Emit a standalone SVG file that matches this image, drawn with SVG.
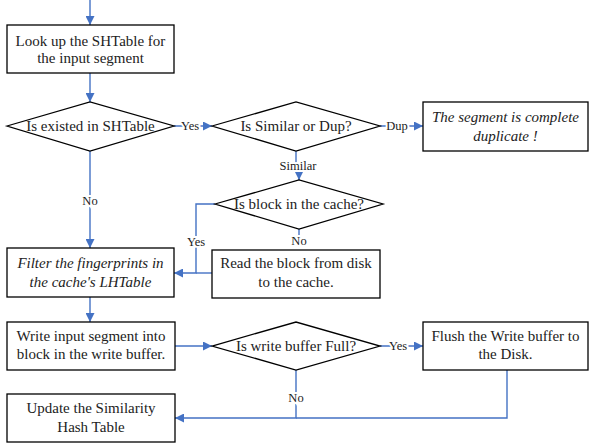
<svg xmlns="http://www.w3.org/2000/svg" width="589" height="443" viewBox="0 0 589 443" font-family="Liberation Serif, Times New Roman, serif">
<style>
.box{fill:#fff;stroke:#000;stroke-width:1.3}
.ntxt{font-family:"Liberation Serif","Times New Roman",serif;font-size:15px;fill:#222;text-anchor:middle}
.ital{font-style:italic}
.c{fill:none;stroke:#4472C4;stroke-width:1.4}
.lb{font-family:"Liberation Serif","Times New Roman",serif;font-size:12.5px;fill:#222;text-anchor:middle;stroke:#fff;stroke-width:4;paint-order:stroke}
</style>
<defs>
<marker id="ah" viewBox="0 0 10 10" refX="10" refY="5" markerWidth="9" markerHeight="9" markerUnits="userSpaceOnUse" orient="auto">
<path d="M0,0 L10,5 L0,10 z" fill="#4472C4"/>
</marker>
</defs>
<g id="connectors">
<path class="c" d="M90,0 V25" marker-end="url(#ah)"/>
<path class="c" d="M90,73 V102" marker-end="url(#ah)"/>
<path class="c" d="M174,126 H212" marker-end="url(#ah)"/>
<path class="c" d="M380,126 H423" marker-end="url(#ah)"/>
<path class="c" d="M296,151 V166 H299 V180" marker-end="url(#ah)"/>
<path class="c" d="M90,151 V248" marker-end="url(#ah)"/>
<path class="c" d="M215,204 H196 V273 H174" marker-end="url(#ah)"/>
<path class="c" d="M212,273 H196" stroke="#8EA9DB"/>
<path class="c" d="M299,229 V238"/>
<path class="c" d="M90,297 V322" marker-end="url(#ah)"/>
<path class="c" d="M175,346 H212" marker-end="url(#ah)"/>
<path class="c" d="M380,346 H423" marker-end="url(#ah)"/>
<path class="c" d="M296,370 V418 H175" marker-end="url(#ah)"/>
<path class="c" d="M507,370 V418 H296"/>
<text class="lb" x="190" y="130">Yes</text>
<text class="lb" x="397" y="130">Dup</text>
<text class="lb" x="298" y="170">Similar</text>
<text class="lb" x="90" y="205">No</text>
<text class="lb" x="196" y="246">Yes</text>
<text class="lb" x="299" y="245">No</text>
<text class="lb" x="398" y="350">Yes</text>
<text class="lb" x="296" y="402">No</text>
</g>
<g id="lookup">
<rect class="box" x="7" y="25" width="167" height="48"/>
<text class="ntxt" x="90.5" y="46">Look up the SHTable for</text>
<text class="ntxt" x="90.5" y="63">the input segment</text>
</g>
<g id="existed">
<polygon class="box" points="7,126 90,102 174,126 90,151"/>
<text class="ntxt" x="90.5" y="131">Is existed in SHTable</text>
</g>
<g id="simdup">
<polygon class="box" points="212,126 296,102 380,126 296,151"/>
<text class="ntxt" x="296" y="131">Is Similar or Dup?</text>
</g>
<g id="duplicate">
<rect class="box" x="423" y="102" width="165" height="49"/>
<text class="ntxt ital" x="505.5" y="122">The segment is complete</text>
<text class="ntxt ital" x="505.5" y="141">duplicate !</text>
</g>
<g id="incache">
<polygon class="box" points="215,204 299,180 383,204 299,229"/>
<text class="ntxt" x="299" y="209">Is block in the cache?</text>
</g>
<g id="readblock">
<rect class="box" x="212" y="250" width="168" height="48"/>
<text class="ntxt" x="296" y="268">Read the block from disk</text>
<text class="ntxt" x="296" y="287">to the cache.</text>
</g>
<g id="filter">
<rect class="box" x="7" y="248" width="167" height="49"/>
<text class="ntxt ital" x="90.5" y="268">Filter the fingerprints in</text>
<text class="ntxt ital" x="90.5" y="287">the cache's LHTable</text>
</g>
<g id="writeseg">
<rect class="box" x="7" y="322" width="168" height="48"/>
<text class="ntxt" x="91" y="341">Write input segment into</text>
<text class="ntxt" x="91" y="359">block in the write buffer.</text>
</g>
<g id="bufferfull">
<polygon class="box" points="212,346 296,322 380,346 296,370"/>
<text class="ntxt" x="296" y="351">Is write buffer Full?</text>
</g>
<g id="flush">
<rect class="box" x="423" y="322" width="165" height="48"/>
<text class="ntxt" x="505.5" y="341">Flush the Write buffer to</text>
<text class="ntxt" x="505.5" y="359">the Disk.</text>
</g>
<g id="update">
<rect class="box" x="7" y="394" width="168" height="48"/>
<text class="ntxt" x="91" y="413">Update the Similarity</text>
<text class="ntxt" x="91" y="432">Hash Table</text>
</g>
</svg>
